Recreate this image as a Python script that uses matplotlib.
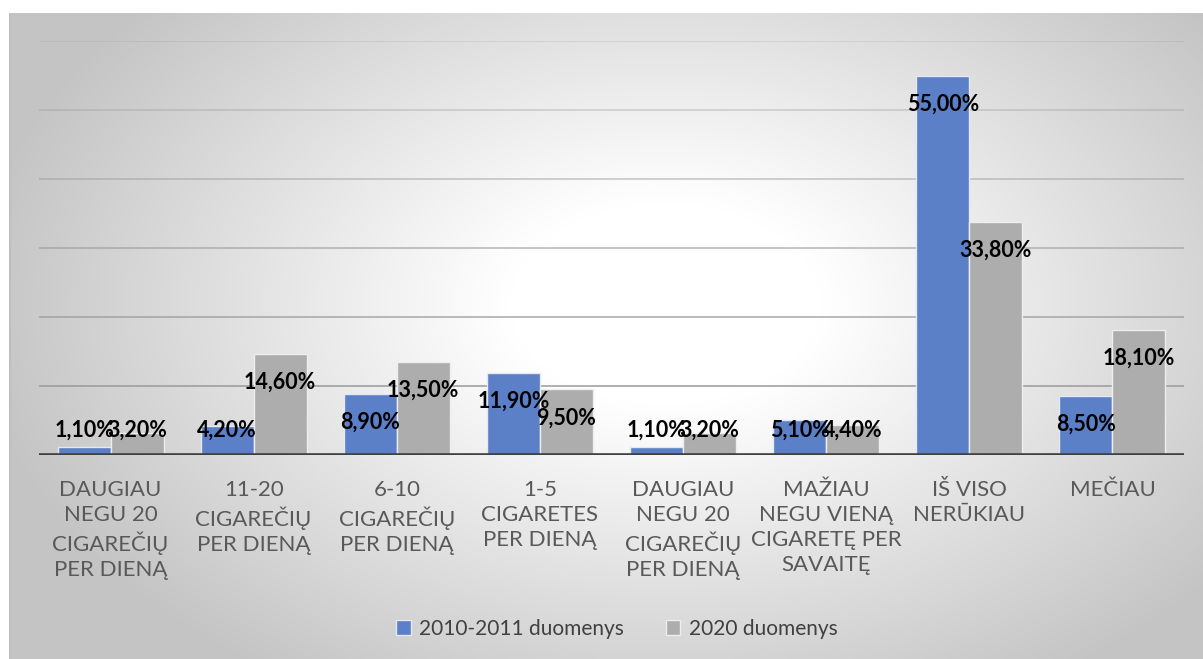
import numpy as np
import matplotlib
matplotlib.use("Agg")
import matplotlib.pyplot as plt

plt.rcParams['font.family'] = ['Lato', 'DejaVu Sans']

# data
categories = ["DAUGIAU\nNEGU 20\nCIGAREČIŲ\nPER DIENĄ",
              "11-20\nCIGAREČIŲ\nPER DIENĄ",
              "6-10\nCIGAREČIŲ\nPER DIENĄ",
              "1-5\nCIGARETES\nPER DIENĄ",
              "DAUGIAU\nNEGU 20\nCIGAREČIŲ\nPER DIENĄ",
              "MAŽIAU\nNEGU VIENĄ\nCIGARETĘ PER\nSAVAITĘ",
              "IŠ VISO\nNERŪKIAU",
              "MEČIAU"]
series_names = ["2010-2011 duomenys", "2020 duomenys"]
vals_2010 = [1.1, 4.2, 8.9, 11.9, 1.1, 5.1, 55.0, 8.5]
vals_2020 = [3.2, 14.6, 13.5, 9.5, 3.2, 4.4, 33.8, 18.1]
labels_2010 = ["1,10%", "4,20%", "8,90%", "11,90%", "1,10%", "5,10%", "55,00%", "8,50%"]
labels_2020 = ["3,20%", "14,60%", "13,50%", "9,50%", "3,20%", "4,40%", "33,80%", "18,10%"]

W, H = 1203, 659
fig = plt.figure(figsize=(W / 100, H / 100), dpi=100)
fig.patch.set_facecolor("white")

# radial gradient background of the chart frame
bg = fig.add_axes([9 / W, 0, 1 - 9 / W, 1 - 13 / H], zorder=-5)
gx, gy = np.meshgrid(np.linspace(0, 1, 400), np.linspace(0, 1, 220))
d = np.sqrt(((gx - 0.55) / 0.6) ** 2 + ((gy - 0.45) / 0.72) ** 2)
shade = 1.0 - 0.23 * np.clip((d - 0.22) / 0.75, 0, 1)
bg.imshow(np.dstack([shade] * 3), aspect="auto", extent=[0, 1, 0, 1], origin="upper")
bg.axvline(0.001, color="#bdbdbd", lw=1.2)
bg.set_axis_off()

ax = fig.add_axes([39 / W, 1 - 455 / H, (1184 - 39) / W, (455 - 41) / H])
ax.set_facecolor("none")
x = np.arange(len(categories))
bw = 0.37
ax.bar(x - bw / 2, vals_2010, bw, color="#5b80c8", edgecolor="#e4e8f0", lw=1, zorder=3,
       label=series_names[0])
ax.bar(x + bw / 2, vals_2020, bw, color="#adadad", edgecolor="#eeeeee", lw=1, zorder=3,
       label=series_names[1])

# gridlines, fading towards the top
for i, g in enumerate(range(10, 70, 10)):
    ax.axhline(g, color="#9a9a9a", lw=1.3, alpha=0.85 - 0.12 * i, zorder=1)
ax.axhline(0, color="#404040", lw=2.6, zorder=4)

for xs, vs, ls in [(x - bw / 2, vals_2010, labels_2010), (x + bw / 2, vals_2020, labels_2020)]:
    for xi, v, lab in zip(xs, vs, ls):
        ax.text(xi, max(v - 4.1, 3.6), lab, ha="center", va="center",
                fontsize=15.5, fontweight="bold", color="black", zorder=5)

ax.set_xlim(-0.5, len(categories) - 0.5)
ax.set_ylim(0, 60)
ax.set_yticks([])
ax.set_xticks(x)
ax.set_xticklabels(categories, fontsize=16, color="#595959", linespacing=1.32)
ax.tick_params(axis="x", length=0, pad=18)
for s in ax.spines.values():
    s.set_visible(False)

fig.legend(loc="center", bbox_to_anchor=(617 / W, 1 - 629 / H), ncol=2, frameon=False,
           fontsize=15, handlelength=0.7, handleheight=0.7, handletextpad=0.4,
           columnspacing=2.0, labelcolor="#404040")

fig.savefig("out.png", dpi=100)
